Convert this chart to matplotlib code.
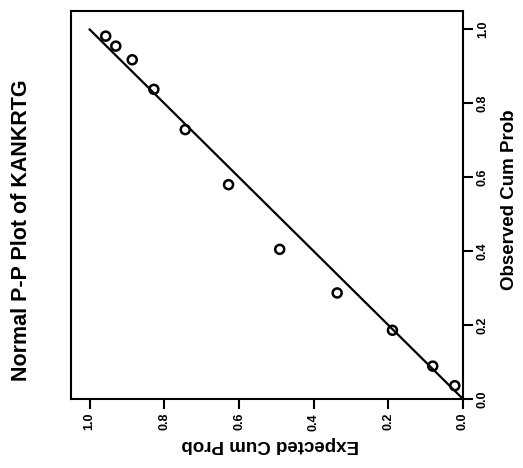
import matplotlib
matplotlib.use("Agg")
import matplotlib.pyplot as plt

# Data (expected cum prob, observed cum prob)
expected = [0.957, 0.930, 0.886, 0.828, 0.744, 0.628, 0.491, 0.337, 0.189, 0.081, 0.022]
observed = [0.982, 0.955, 0.918, 0.838, 0.729, 0.580, 0.405, 0.287, 0.186, 0.089, 0.036]
ref_line = [0.0, 1.0]
tick_vals = [0.0, 0.2, 0.4, 0.6, 0.8, 1.0]
tick_labels = ["0.0", "0.2", "0.4", "0.6", "0.8", "1.0"]

plt.rcParams['font.family'] = ['Liberation Sans', 'DejaVu Sans']

W, H = 523, 468
fig = plt.figure(figsize=(W / 100, H / 100), dpi=100)
ax = fig.add_axes([71 / W, 1 - 399 / H, (463 - 71) / W, (399 - 11) / H])

ax.plot(ref_line, ref_line, color='black', lw=1.6, zorder=2)
ax.scatter(expected, observed, s=42, facecolors='none', edgecolors='black',
           linewidths=1.8, zorder=3)

ax.set_xlim(1.05, 0.0)
ax.set_ylim(0.0, 1.05)

ax.yaxis.tick_right()
ax.set_xticks(tick_vals)
ax.set_xticklabels(tick_labels, rotation=90, fontsize=9, fontweight='bold')
ax.set_yticks(tick_vals)
ax.set_yticklabels(tick_labels, rotation=90, fontsize=9, fontweight='bold', va='center')
ax.tick_params(axis='both', direction='out', length=7, width=1.5, color='black', pad=3)
for s in ax.spines.values():
    s.set_linewidth(1.5)
    s.set_color('black')

fig.text(22 / W, 1 - 230 / H, "Normal P-P Plot of KANKRTG", rotation=90,
         ha='center', va='center', fontsize=15.5, fontweight='bold')
fig.text(270 / W, 1 - 445 / H, "Expected Cum Prob", rotation=180,
         ha='center', va='center', fontsize=13.5, fontweight='bold')
fig.text(509 / W, 1 - 200 / H, "Observed Cum Prob", rotation=90,
         ha='center', va='center', fontsize=13.5, fontweight='bold')

fig.savefig("out.png", dpi=100)
